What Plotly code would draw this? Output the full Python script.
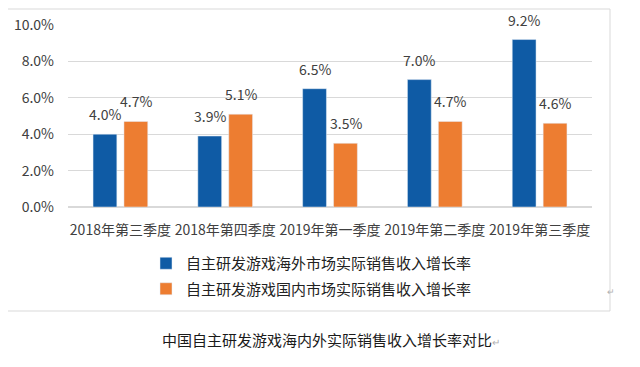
import plotly.graph_objects as go

categories = ["2018年第三季度", "2018年第四季度", "2019年第一季度", "2019年第二季度", "2019年第三季度"]
overseas = [0.040, 0.039, 0.065, 0.070, 0.092]
domestic = [0.047, 0.051, 0.035, 0.047, 0.046]
series_names = ["自主研发游戏海外市场实际销售收入增长率", "自主研发游戏国内市场实际销售收入增长率"]
y_ticks = [0, 0.02, 0.04, 0.06, 0.08, 0.10]
title_text = "中国自主研发游戏海内外实际销售收入增长率对比"

W, H = 640, 367
OFF = 8  # page body margin


def px(x):
    return (x - OFF) / W


def py(y):
    return 1 - (y - OFF) / H


FONT = "Noto Sans CJK SC, Microsoft YaHei, sans-serif"
BLUE = "#0F5BA5"
ORANGE = "#ED7D31"
TXT = "#404040"

fig = go.Figure()
fig.add_trace(go.Bar(x=categories, y=overseas, name=series_names[0], marker_color=BLUE,
                     legendgroup="a"))
fig.add_trace(go.Bar(x=categories, y=domestic, name=series_names[1], marker_color=ORANGE,
                     legendgroup="b"))

# data labels above bars
annos = []
for vals, shift in ((overseas, -15.5), (domestic, 15.5)):
    for c, v in zip(categories, vals):
        annos.append(dict(x=c, y=v, xref="x", yref="y", text=f"{v*100:.1f}%",
                          showarrow=False, xshift=shift, yshift=8, yanchor="bottom",
                          font=dict(family=FONT, size=14, color=TXT)))

annos.append(dict(x=px(331), y=py(339), xref="paper", yref="paper",
                  text=title_text + "<span style='color:#b0b0b0;font-size:10px'>↵</span>",
                  showarrow=False, xanchor="center", yanchor="middle",
                  font=dict(family=FONT, size=15, color="#1a1a1a")))
annos.append(dict(x=px(617), y=py(300), xref="paper", yref="paper", text="↵",
                  showarrow=False, font=dict(family=FONT, size=9, color="#b0b0b0")))

fig.update_layout(
    width=W, height=H,
    margin=dict(l=0, r=0, t=0, b=0, autoexpand=False),
    paper_bgcolor="white", plot_bgcolor="white",
    barmode="group", bargap=0.41, bargroupgap=0.23,
    font=dict(family=FONT, size=14, color=TXT),
    xaxis=dict(domain=[px(68), px(592)], showgrid=False, showline=False, ticks="",
               tickangle=0, automargin=False, ticklabelstandoff=13,
               tickfont=dict(size=14, color=TXT)),
    yaxis=dict(domain=[py(207), py(25)], range=[0, 0.10], tickvals=y_ticks,
               tickformat=".1%", showgrid=True, gridcolor="#d9d9d9", gridwidth=1,
               zeroline=True, zerolinecolor="#d9d9d9", showline=False, ticks="",
               automargin=False, ticklabelstandoff=13, tickfont=dict(size=14, color=TXT)),
    legend=dict(x=px(146), y=py(247), xanchor="left", yanchor="top",
                orientation="v", tracegroupgap=3, bgcolor="rgba(0,0,0,0)",
                font=dict(family=FONT, size=15, color="#222222")),
    annotations=annos,
    shapes=[dict(type="rect", xref="paper", yref="paper",
                 x0=px(5), x1=px(610), y0=py(311), y1=py(9),
                 line=dict(color="#d9d9d9", width=1), fillcolor="rgba(0,0,0,0)", layer="below")],
)

fig.write_html("out.html")
